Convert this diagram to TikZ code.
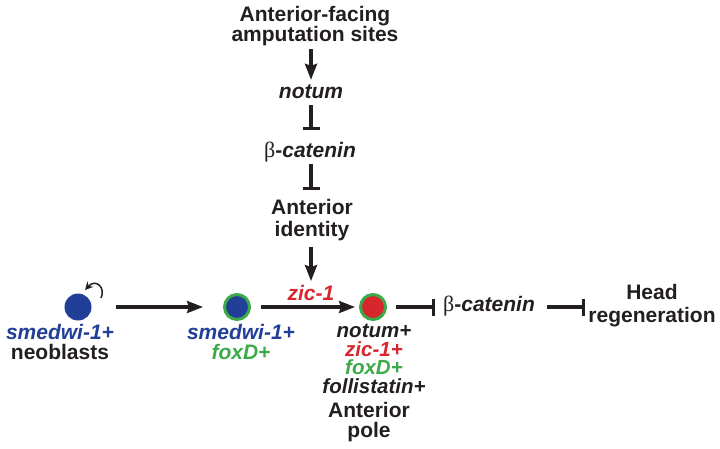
\documentclass[tikz,border=0pt]{standalone}
\usepackage{fontspec}
\setmainfont{Liberation Sans}
\newfontfamily\symfont{Liberation Serif}
\usetikzlibrary{arrows.meta}
\definecolor{dblue}{HTML}{213F97}
\definecolor{dgreen}{HTML}{3DAA4A}
\definecolor{dred}{HTML}{D7262C}
\definecolor{ink}{HTML}{231F20}
\newcommand{\bet}{{\symfont\mdseries\upshape\fontsize{22}{20}\selectfont β}}
\begin{document}
\begin{tikzpicture}[x=1pt,y=-1pt,
  lbl/.style={inner sep=0pt,align=center,text=ink,font=\fontsize{21}{20.5}\selectfont\bfseries},
  act/.style={draw=ink,line width=3.2pt,-{Stealth[length=16pt,width=12pt,inset=2pt]}},
  inh/.style={draw=ink,line width=3.2pt,-{Bar[width=17pt,line width=3.2pt]}},
  cell/.style={circle,minimum size=27pt,inner sep=0pt}]
\useasboundingbox (0,0) rectangle (720,448);
\node[lbl] (top) at (315,26) {Anterior-facing\\amputation sites};
\node[lbl] (notum) at (311,92) {\itshape notum};
\node[lbl] (bcat1) at (310,152) {\bet-\itshape catenin};
\node[lbl,font=\fontsize{21}{22}\selectfont\bfseries] (antid) at (312,220) {Anterior\\identity};
\node[lbl,text=dred] (zic) at (311,293) {\itshape zic-1};
\node[cell,fill=dblue] (c1) at (78,307) {};
\node[cell,fill=dblue,draw=dgreen,line width=3pt,minimum size=25pt] (c2) at (237,307) {};
\node[cell,fill=dred,draw=dgreen,line width=3pt,minimum size=25pt] (c3) at (373,307) {};
\node[lbl] (lab1) at (60,342) {\textcolor{dblue}{\itshape smedwi-1+}\\neoblasts};
\node[lbl] (lab2) at (241,342) {\textcolor{dblue}{\itshape smedwi-1+}\\\textcolor{dgreen}{\itshape foxD+}};
\node[lbl,font=\fontsize{20.5}{18.5}\selectfont\bfseries] (lab3) at (374,359) {\itshape notum+\\\textcolor{dred}{\itshape zic-1+}\\\textcolor{dgreen}{\itshape foxD+}\\\itshape follistatin+};
\node[lbl] (lab4) at (369,422) {Anterior\\pole};
\node[lbl] (bcat2) at (489,306) {\bet-\itshape catenin};
\node[lbl,font=\fontsize{21}{23}\selectfont\bfseries] (head) at (652,306) {Head\\regeneration};
\draw[act,shorten <=3pt,shorten >=5pt] (top.south -| notum) -- (notum.north);
\draw[inh,shorten <=6pt,shorten >=12pt] (notum.south) -- (notum.south |- bcat1.north);
\draw[inh,shorten <=2pt,shorten >=9pt] (bcat1.south -| notum) -- (antid.north -| notum);
\draw[act,shorten <=6pt,shorten >=4pt] (antid.south -| zic) -- (zic.north);
\draw[act,shorten <=24pt,shorten >=20pt] (c1) -- (c2);
\draw[act,shorten <=10pt,shorten >=4pt] (c2) -- (c3);
\draw[inh,shorten <=9pt,shorten >=8pt] (c3) -- (c3 -| bcat2.west);
\draw[inh,shorten <=12pt,shorten >=3pt] (bcat2.east |- c3) -- (head.west |- c3);
\coordinate (s0) at (101,298);
\coordinate (s1) at (85,290);
\draw[draw=ink,line width=1.5pt,-{Stealth[length=8pt,width=8pt]}] (s0) .. controls (106,288) and (96,278) .. (s1);
\end{tikzpicture}
\end{document}
